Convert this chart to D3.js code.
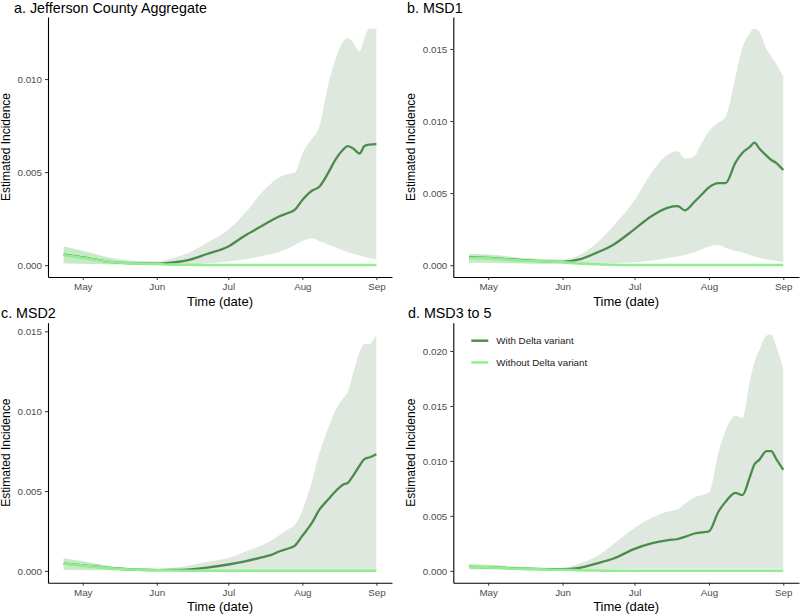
<!DOCTYPE html>
<html>
<head>
<meta charset="utf-8">
<script src="https://cdnjs.cloudflare.com/ajax/libs/d3/7.8.5/d3.min.js"></script>
<style>
  body { margin: 0; background: #fff; }
  svg { display: block; font-family: "Liberation Sans", Arial, sans-serif; }
  .tick text { fill: #4d4d4d; font-size: 9.8px; }
  .tick line { stroke: #333; }
  .domain { stroke: #000; stroke-width: 1.1; }
</style>
</head>
<body>
<svg id="chart" width="800" height="616"></svg>
<script>
// Shared date grid (2021)
const dates = ['2021-04-23', '2021-05-01', '2021-05-15', '2021-06-01', '2021-06-08', '2021-06-15',
  '2021-06-22', '2021-07-01', '2021-07-08', '2021-07-15', '2021-07-19', '2021-07-22', '2021-07-26',
  '2021-07-29', '2021-08-01', '2021-08-05', '2021-08-08', '2021-08-12', '2021-08-15', '2021-08-18',
  '2021-08-20', '2021-08-22', '2021-08-25', '2021-08-27', '2021-08-29', '2021-09-01'];

const monthTicks = ['2021-05-01', '2021-06-01', '2021-07-01', '2021-08-01', '2021-09-01'];

const panelTitles = ['a. Jefferson County Aggregate', 'b. MSD1', 'c. MSD2', 'd. MSD3 to 5'];
const seriesNames = ['With Delta variant', 'Without Delta variant'];

// a. Jefferson County Aggregate
const aggWith = [.00057, .00042, .00014, .00008, .00015, .0003, .0006, .001, .0016, .0021, .0024, .0026, .0028,
  .003, .0035, .004, .0042, .005, .0057, .0062, .0064, .0063, .006, .0064, .00648, .0065];
const aggWithHi = [.001, .00078, .00035, .0002, .0004, .0007, .0012, .0019, .0028, .0039, .0044, .0047, .0049,
  .005, .006, .0068, .0074, .0098, .0111, .012, .0122, .012, .0115, .0122, .0127, .0127];
const aggWithLo = [.0001, .00008, .00005, .00004, .00004, .00005, .0001, .0002, .0003, .0005, .0006, .0007, .0009,
  .0011, .0013, .00145, .0013, .0011, .00095, .0008, .0007, .00063, .00052, .00045, .00038, .0003];
const aggWithout = [.00055, .0004, .00014, .00006, .00003, .00002, .00001, .00001, .00001, .00001, .00001, .00001, .00001,
  .00001, .00001, .00001, .00001, .00001, .00001, .00001, .00001, .00001, .00001, .00001, .00001, .00001];
const aggWithoutHi = [.001, .00075, .0003, .00012, .00006, .00003, .00002, .00002, .00002, .00002, .00002, .00002, .00002,
  .00002, .00002, .00002, .00002, .00002, .00002, .00002, .00002, .00002, .00002, .00002, .00002, .00002];
const aggWithoutLo = [.0001, .00008, .00004, .00002, .00001, 0, 0, 0, 0, 0, 0, 0, 0,
  0, 0, 0, 0, 0, 0, 0, 0, 0, 0, 0, 0, 0];

// b. MSD1
const msd1With = [.00055, .0005, .00035, .00023, .0004, .00085, .0014, .0025, .0034, .004, .0041, .0038, .0044,
  .0049, .0054, .0057, .0057, .0071, .0078, .0082, .0085, .0081, .0076, .0073, .0071, .0066];
const msd1WithHi = [.0008, .00075, .0005, .0004, .0007, .0015, .0027, .0045, .0064, .0077, .0079, .0074, .0076,
  .0085, .0093, .0099, .0103, .013, .0151, .0161, .0164, .0162, .015, .0145, .014, .0131];
const msd1WithLo = [.00016, .00015, .00012, .0001, .0001, .00012, .00015, .0002, .0003, .0005, .0006, .0007, .0009,
  .0011, .0013, .0014, .0012, .001, .0009, .0007, .0006, .0005, .0004, .00035, .0003, .0002];
const msd1Without = [.00052, .00047, .00033, .0002, .00012, .00006, .00003, .00001, .00001, .00001, .00001, .00001, .00001,
  .00001, .00001, .00001, .00001, .00001, .00001, .00001, .00001, .00001, .00001, .00001, .00001, .00001];
const msd1WithoutHi = [.0008, .0007, .0005, .00035, .00025, .00015, .0001, .00005, .00003, .00002, .00002, .00002, .00002,
  .00002, .00002, .00002, .00002, .00002, .00002, .00002, .00002, .00002, .00002, .00002, .00002, .00002];
const msd1WithoutLo = [.0002, .00018, .00012, .00008, .00005, .00003, .00001, 0, 0, 0, 0, 0, 0,
  0, 0, 0, 0, 0, 0, 0, 0, 0, 0, 0, 0, 0];

// c. MSD2
const msd2With = [.00046, .00035, .00015, .00005, .00006, .0001, .0002, .0004, .0006, .00085, .001, .0012, .0014,
  .0016, .0022, .003, .0038, .0045, .005, .0054, .0055, .0059, .0066, .007, .0071, .0073];
const msd2WithHi = [.00078, .0006, .00025, .00015, .0002, .00036, .00055, .0008, .0012, .0016, .0019, .0022, .0026,
  .0029, .0038, .0056, .0073, .009, .0101, .0108, .0112, .0122, .0137, .0142, .0142, .0148];
const msd2WithLo = [.00005, .00004, .00003, .00003, .00003, .00003, .00003, .00003, .00003, .00003, .00003, .00003, .00003,
  .00003, .00003, .00003, .00003, .00003, .00003, .00003, .00003, .00003, .00003, .00003, .00003, .00003];
const msd2Without = [.00045, .00033, .00013, .00004, .00002, .00001, .00001, .00001, .00001, .00001, .00001, .00001, .00001,
  .00001, .00001, .00001, .00001, .00001, .00001, .00001, .00001, .00001, .00001, .00001, .00001, .00001];
const msd2WithoutHi = [.0008, .0006, .00025, .0001, .00005, .00002, .00002, .00002, .00002, .00002, .00002, .00002, .00002,
  .00002, .00002, .00002, .00002, .00002, .00002, .00002, .00002, .00002, .00002, .00002, .00002, .00002];
const msd2WithoutLo = [.0001, .00008, .00004, .00002, .00001, 0, 0, 0, 0, 0, 0, 0, 0,
  0, 0, 0, 0, 0, 0, 0, 0, 0, 0, 0, 0, 0];

// d. MSD3 to 5
const msd35With = [.00037, .00033, .0002, .00015, .00028, .00067, .0011, .002, .0025, .0028, .0029, .0031, .0034,
  .0035, .0036, .0054, .0063, .0071, .0069, .0085, .0097, .0101, .0109, .0109, .0102, .0092];
const msd35WithHi = [.0006, .00055, .00037, .00028, .00067, .0013, .0024, .0039, .0048, .0054, .0056, .0061, .0067,
  .0069, .0071, .0108, .0128, .0141, .0139, .0172, .019, .0201, .0214, .0215, .0205, .0183];
const msd35WithLo = [.00015, .00014, .0001, .00008, .0001, .00012, .00015, .0002, .0002, .0002, .0002, .0002, .0002,
  .0002, .0002, .0002, .0002, .0002, .0002, .0002, .0002, .0002, .0002, .0002, .0002, .0002];
const msd35Without = [.00035, .00032, .00018, .0001, .00006, .00003, .00001, .00001, .00001, .00001, .00001, .00001, .00001,
  .00001, .00001, .00001, .00001, .00001, .00001, .00001, .00001, .00001, .00001, .00001, .00001, .00001];
const msd35WithoutHi = [.0006, .00055, .00035, .00022, .00012, .00006, .00003, .00002, .00002, .00002, .00002, .00002, .00002,
  .00002, .00002, .00002, .00002, .00002, .00002, .00002, .00002, .00002, .00002, .00002, .00002, .00002];
const msd35WithoutLo = [.00015, .00014, .0001, .00005, .00003, .00001, 0, 0, 0, 0, 0, 0, 0,
  0, 0, 0, 0, 0, 0, 0, 0, 0, 0, 0, 0, 0];

const panels = [
  { title: panelTitles[0], w: aggWith, wHi: aggWithHi, wLo: aggWithLo, n: aggWithout, nHi: aggWithoutHi, nLo: aggWithoutLo,
    box: { left: 48, right: 392, top: 17, bottom: 277 }, titleX: 14, titleY: 13 },
  { title: panelTitles[1], w: msd1With, wHi: msd1WithHi, wLo: msd1WithLo, n: msd1Without, nHi: msd1WithoutHi, nLo: msd1WithoutLo,
    box: { left: 453.3, right: 799, top: 17, bottom: 277 }, titleX: 407, titleY: 13 },
  { title: panelTitles[2], w: msd2With, wHi: msd2WithHi, wLo: msd2WithLo, n: msd2Without, nHi: msd2WithoutHi, nLo: msd2WithoutLo,
    box: { left: 48, right: 392, top: 322.7, bottom: 582.7 }, titleX: 1, titleY: 318, },
  { title: panelTitles[3], w: msd35With, wHi: msd35WithHi, wLo: msd35WithLo, n: msd35Without, nHi: msd35WithoutHi, nLo: msd35WithoutLo,
    box: { left: 453.3, right: 799, top: 322.7, bottom: 582.7 }, titleX: 408, titleY: 318, legend: true }
];

const parse = d3.timeParse('%Y-%m-%d');
const withColor = '#4b8b4b';
const withoutColor = '#90ee90';
const ribbonColor = '#dfe8df';

const svg = d3.select('#chart');

// Draw one facet
function drawPanel(p) {
  const rows = dates.map((d, i) => ({
    date: parse(d), w: p.w[i], wHi: p.wHi[i], wLo: p.wLo[i], n: p.n[i], nHi: p.nHi[i], nLo: p.nLo[i]
  }));

  // ggplot-like 5% expansion
  const xExt = d3.extent(rows, d => d.date);
  const xPad = (xExt[1] - xExt[0]) * 0.05;
  const x = d3.scaleTime()
    .domain([new Date(+xExt[0] - xPad), new Date(+xExt[1] + xPad)])
    .range([p.box.left, p.box.right]);

  const yMin = d3.min(rows, d => Math.min(d.wLo, d.nLo));
  const yMax = d3.max(rows, d => Math.max(d.wHi, d.nHi));
  const yPad = (yMax - yMin) * 0.05;
  const y = d3.scaleLinear()
    .domain([yMin - yPad, yMax + yPad])
    .range([p.box.bottom, p.box.top]);

  const g = svg.append('g');
  const curve = d3.curveMonotoneX;

  // Ribbons
  g.append('path')
    .datum(rows)
    .attr('fill', ribbonColor)
    .attr('d', d3.area().curve(curve).x(d => x(d.date)).y0(d => y(d.wLo)).y1(d => y(d.wHi)));

  g.append('path')
    .datum(rows)
    .attr('fill', withoutColor)
    .attr('fill-opacity', 0.3)
    .attr('d', d3.area().curve(curve).x(d => x(d.date)).y0(d => y(d.nLo)).y1(d => y(d.nHi)));

  // Lines
  g.append('path')
    .datum(rows)
    .attr('fill', 'none')
    .attr('stroke', withColor)
    .attr('stroke-width', 2.3)
    .attr('d', d3.line().curve(curve).x(d => x(d.date)).y(d => y(d.w)));

  g.append('path')
    .datum(rows)
    .attr('fill', 'none')
    .attr('stroke', withoutColor)
    .attr('stroke-width', 2.6)
    .attr('d', d3.line().curve(curve).x(d => x(d.date)).y(d => y(d.n)));

  // Axes
  const xAxis = d3.axisBottom(x)
    .tickValues(monthTicks.map(parse))
    .tickFormat(d3.timeFormat('%b'))
    .tickSize(3)
    .tickSizeOuter(0)
    .tickPadding(3);
  g.append('g')
    .attr('transform', `translate(0,${p.box.bottom})`)
    .call(xAxis);

  const yAxis = d3.axisLeft(y)
    .ticks(4)
    .tickFormat(d3.format('.3f'))
    .tickSize(3)
    .tickSizeOuter(0)
    .tickPadding(3);
  g.append('g')
    .attr('transform', `translate(${p.box.left},0)`)
    .call(yAxis);

  // Axis titles
  g.append('text')
    .attr('x', (p.box.left + p.box.right) / 2)
    .attr('y', p.box.bottom + 28.5)
    .attr('text-anchor', 'middle')
    .attr('font-size', 13)
    .text('Time (date)');

  g.append('text')
    .attr('transform', `translate(${p.box.left - 38},${(p.box.top + p.box.bottom) / 2}) rotate(-90)`)
    .attr('text-anchor', 'middle')
    .attr('font-size', 12)
    .text('Estimated Incidence');

  // Panel title
  svg.append('text')
    .attr('x', p.titleX)
    .attr('y', p.titleY)
    .attr('font-size', 14.3)
    .text(p.title);

  if (p.legend) {
    const lg = g.append('g').attr('transform', `translate(${p.box.left + 18},${p.box.top + 18})`);
    seriesNames.forEach((name, i) => {
      const row = lg.append('g').attr('transform', `translate(0,${i * 21.7})`);
      row.append('line')
        .attr('x1', 0).attr('x2', 17)
        .attr('stroke', i === 0 ? withColor : withoutColor)
        .attr('stroke-width', 2.4);
      row.append('text')
        .attr('x', 25)
        .attr('dy', '0.35em')
        .attr('font-size', 9.8)
        .attr('fill', '#1a1a1a')
        .text(name);
    });
  }
}

panels.forEach(drawPanel);
</script>
</body>
</html>
